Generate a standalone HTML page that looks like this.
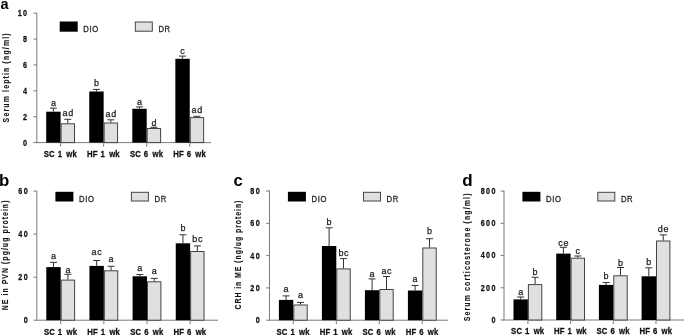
<!DOCTYPE html>
<html><head><meta charset="utf-8"><style>
html,body{margin:0;padding:0;background:#fff;width:685px;height:335px;overflow:hidden}
svg{display:block;filter:blur(0.45px)}
text{font-family:"Liberation Sans",sans-serif;white-space:pre}
.yl{font-size:8px;font-weight:bold;text-anchor:middle;fill:#111;stroke:#111;stroke-width:0.1px}
.tl{font-size:8px;font-weight:bold;letter-spacing:1.5px;word-spacing:0px;fill:#111;stroke:#111;stroke-width:0.25px}
.xl{font-size:8px;font-weight:bold;letter-spacing:0.15px;word-spacing:0.6px;fill:#111;stroke:#111;stroke-width:0.25px}
.lg{font-size:8px;font-weight:normal;letter-spacing:0.7px;word-spacing:0px;fill:#2a2a2a;stroke:#2a2a2a;stroke-width:0.3px}
.sl{font-size:9px;font-weight:normal;letter-spacing:0.7px;word-spacing:0px;fill:#222;stroke:#222;stroke-width:0.25px}
.pl{font-size:16.5px;font-weight:bold;letter-spacing:0.0px;word-spacing:0px;fill:#000}
</style></head><body>
<svg width="685" height="335" viewBox="0 0 685 335">
<rect x="36.3" y="12.7" width="1" height="130.4" fill="#7c7c7c"/>
<rect x="36.3" y="142.1" width="174.8" height="1" fill="#7c7c7c"/>
<rect x="33.4" y="142.1" width="3.4" height="1" fill="#7c7c7c"/>
<text transform="translate(28.45,145.5) scale(0.9,1.03)" class="tl" text-anchor="end">0</text>
<rect x="33.4" y="116.22" width="3.4" height="1" fill="#7c7c7c"/>
<text transform="translate(28.45,119.62) scale(0.9,1.03)" class="tl" text-anchor="end">2</text>
<rect x="33.4" y="90.34" width="3.4" height="1" fill="#7c7c7c"/>
<text transform="translate(28.45,93.74) scale(0.9,1.03)" class="tl" text-anchor="end">4</text>
<rect x="33.4" y="64.46" width="3.4" height="1" fill="#7c7c7c"/>
<text transform="translate(28.45,67.86) scale(0.9,1.03)" class="tl" text-anchor="end">6</text>
<rect x="33.4" y="38.58" width="3.4" height="1" fill="#7c7c7c"/>
<text transform="translate(28.45,41.98) scale(0.9,1.03)" class="tl" text-anchor="end">8</text>
<rect x="33.4" y="12.7" width="3.4" height="1" fill="#7c7c7c"/>
<text transform="translate(28.45,16.1) scale(0.9,1.03)" class="tl" text-anchor="end">10</text>
<text transform="translate(9.3,77.3) rotate(-90) scale(0.87,1.07)" class="yl" style="letter-spacing:1.32px">Serum leptin (ng/ml)</text>
<text transform="translate(0.6,8.6)" class="pl" style="font-size:14.5px">a</text>
<rect x="59.7" y="21.5" width="18" height="10.2" fill="#000"/>
<text transform="translate(83.3,32.1) scale(0.96,1.08)" class="lg">DIO</text>
<rect x="135.3" y="22" width="17" height="9.2" fill="#e0e0e0" stroke="#444" stroke-width="1"/>
<text transform="translate(158.4,32.1) scale(0.96,1.08)" class="lg">DR</text>
<rect x="46.2" y="111.7" width="14.4" height="30.9" fill="#000"/>
<rect x="61.1" y="123.8" width="13.4" height="18.8" fill="#e0e0e0" stroke="#444" stroke-width="1"/>
<rect x="52.9" y="108.1" width="1" height="3.6" fill="#333"/>
<rect x="49.9" y="107.6" width="7" height="1" fill="#333"/>
<rect x="67.3" y="119.3" width="1" height="4" fill="#333"/>
<rect x="64.3" y="118.8" width="7" height="1" fill="#333"/>
<text transform="translate(53.75,106.1)" class="sl" text-anchor="middle">a</text>
<text transform="translate(68.15,116.4)" class="sl" text-anchor="middle">ad</text>
<rect x="60.1" y="143.1" width="1" height="3.5" fill="#7c7c7c"/>
<text transform="translate(60.4,156.9) scale(0.97,1.05)" class="xl" text-anchor="middle">SC 1 <tspan dx="1.3">wk</tspan></text>
<rect x="89.25" y="91.5" width="14.4" height="51.1" fill="#000"/>
<rect x="104.15" y="123" width="13.4" height="19.6" fill="#e0e0e0" stroke="#444" stroke-width="1"/>
<rect x="95.95" y="89.4" width="1" height="2.1" fill="#333"/>
<rect x="92.95" y="88.9" width="7" height="1" fill="#333"/>
<rect x="110.35" y="119.8" width="1" height="2.7" fill="#333"/>
<rect x="107.35" y="119.3" width="7" height="1" fill="#333"/>
<text transform="translate(96.8,85.8)" class="sl" text-anchor="middle">b</text>
<text transform="translate(111.2,117.2)" class="sl" text-anchor="middle">ad</text>
<rect x="103.15" y="143.1" width="1" height="3.5" fill="#7c7c7c"/>
<text transform="translate(103.45,156.9) scale(0.97,1.05)" class="xl" text-anchor="middle">HF 1 <tspan dx="1.3">wk</tspan></text>
<rect x="132.3" y="108.8" width="14.4" height="33.8" fill="#000"/>
<rect x="147.2" y="128.5" width="13.4" height="14.1" fill="#e0e0e0" stroke="#444" stroke-width="1"/>
<rect x="139" y="106.9" width="1" height="1.9" fill="#333"/>
<rect x="136" y="106.4" width="7" height="1" fill="#333"/>
<rect x="153.4" y="127.3" width="1" height="0.7" fill="#333"/>
<rect x="150.4" y="126.8" width="7" height="1" fill="#333"/>
<text transform="translate(139.85,104.9)" class="sl" text-anchor="middle">a</text>
<text transform="translate(154.25,126.1)" class="sl" text-anchor="middle">d</text>
<rect x="146.2" y="143.1" width="1" height="3.5" fill="#7c7c7c"/>
<text transform="translate(146.5,156.9) scale(0.97,1.05)" class="xl" text-anchor="middle">SC 6 <tspan dx="1.3">wk</tspan></text>
<rect x="175.35" y="58.8" width="14.4" height="83.8" fill="#000"/>
<rect x="190.25" y="117.6" width="13.4" height="25" fill="#e0e0e0" stroke="#444" stroke-width="1"/>
<rect x="182.05" y="56.1" width="1" height="2.7" fill="#333"/>
<rect x="179.05" y="55.6" width="7" height="1" fill="#333"/>
<rect x="196.45" y="116.3" width="1" height="0.8" fill="#333"/>
<rect x="193.45" y="115.8" width="7" height="1" fill="#333"/>
<text transform="translate(182.9,53.6)" class="sl" text-anchor="middle">c</text>
<text transform="translate(197.3,112.9)" class="sl" text-anchor="middle">ad</text>
<rect x="189.25" y="143.1" width="1" height="3.5" fill="#7c7c7c"/>
<text transform="translate(189.55,156.9) scale(0.97,1.05)" class="xl" text-anchor="middle">HF 6 <tspan dx="1.3">wk</tspan></text>
<rect x="36.3" y="190.6" width="1" height="130.1" fill="#7c7c7c"/>
<rect x="36.3" y="319.7" width="181.6" height="1" fill="#7c7c7c"/>
<rect x="33.4" y="319.7" width="3.4" height="1" fill="#7c7c7c"/>
<text transform="translate(29.05,323.1) scale(0.9,1.03)" class="tl" text-anchor="end">0</text>
<rect x="33.4" y="276.67" width="3.4" height="1" fill="#7c7c7c"/>
<text transform="translate(29.05,280.07) scale(0.9,1.03)" class="tl" text-anchor="end">20</text>
<rect x="33.4" y="233.63" width="3.4" height="1" fill="#7c7c7c"/>
<text transform="translate(29.05,237.03) scale(0.9,1.03)" class="tl" text-anchor="end">40</text>
<rect x="33.4" y="190.6" width="3.4" height="1" fill="#7c7c7c"/>
<text transform="translate(29.05,194) scale(0.9,1.03)" class="tl" text-anchor="end">60</text>
<text transform="translate(7.6,254.85) rotate(-90) scale(0.87,1.07)" class="yl" style="letter-spacing:1.18px">NE in PVN (pg/ug protein)</text>
<text transform="translate(-1,185.8)" class="pl" style="font-size:16.8px">b</text>
<rect x="55.4" y="191.8" width="18" height="9.7" fill="#000"/>
<text transform="translate(79,201.5) scale(0.96,1.08)" class="lg">DIO</text>
<rect x="131.4" y="192.3" width="17" height="8.7" fill="#e0e0e0" stroke="#444" stroke-width="1"/>
<text transform="translate(154.5,201.5) scale(0.96,1.08)" class="lg">DR</text>
<rect x="46.3" y="267.1" width="14.4" height="53.1" fill="#000"/>
<rect x="61.2" y="280.1" width="13.4" height="40.1" fill="#e0e0e0" stroke="#444" stroke-width="1"/>
<rect x="53" y="262.3" width="1" height="4.8" fill="#333"/>
<rect x="50" y="261.8" width="7" height="1" fill="#333"/>
<rect x="67.4" y="274.3" width="1" height="5.3" fill="#333"/>
<rect x="64.4" y="273.8" width="7" height="1" fill="#333"/>
<text transform="translate(53.85,258.9)" class="sl" text-anchor="middle">a</text>
<text transform="translate(68.25,273)" class="sl" text-anchor="middle">a</text>
<rect x="60.2" y="320.7" width="1" height="3.5" fill="#7c7c7c"/>
<text transform="translate(60.5,334.5) scale(0.97,1.05)" class="xl" text-anchor="middle">SC 1 <tspan dx="1.3">wk</tspan></text>
<rect x="89.45" y="265.9" width="14.4" height="54.3" fill="#000"/>
<rect x="104.35" y="270.8" width="13.4" height="49.4" fill="#e0e0e0" stroke="#444" stroke-width="1"/>
<rect x="96.15" y="260.5" width="1" height="5.4" fill="#333"/>
<rect x="93.15" y="260" width="7" height="1" fill="#333"/>
<rect x="110.55" y="266.3" width="1" height="4" fill="#333"/>
<rect x="107.55" y="265.8" width="7" height="1" fill="#333"/>
<text transform="translate(97,254.8)" class="sl" text-anchor="middle">ac</text>
<text transform="translate(111.4,261.9)" class="sl" text-anchor="middle">a</text>
<rect x="103.35" y="320.7" width="1" height="3.5" fill="#7c7c7c"/>
<text transform="translate(103.65,334.5) scale(0.97,1.05)" class="xl" text-anchor="middle">HF 1 <tspan dx="1.3">wk</tspan></text>
<rect x="132.6" y="276.3" width="14.4" height="43.9" fill="#000"/>
<rect x="147.5" y="281.8" width="13.4" height="38.4" fill="#e0e0e0" stroke="#444" stroke-width="1"/>
<rect x="139.3" y="274.5" width="1" height="1.8" fill="#333"/>
<rect x="136.3" y="274" width="7" height="1" fill="#333"/>
<rect x="153.7" y="278.4" width="1" height="2.9" fill="#333"/>
<rect x="150.7" y="277.9" width="7" height="1" fill="#333"/>
<text transform="translate(140.15,270.5)" class="sl" text-anchor="middle">a</text>
<text transform="translate(154.55,274.4)" class="sl" text-anchor="middle">a</text>
<rect x="146.5" y="320.7" width="1" height="3.5" fill="#7c7c7c"/>
<text transform="translate(146.8,334.5) scale(0.97,1.05)" class="xl" text-anchor="middle">SC 6 <tspan dx="1.3">wk</tspan></text>
<rect x="175.75" y="243.3" width="14.4" height="76.9" fill="#000"/>
<rect x="190.65" y="251.5" width="13.4" height="68.7" fill="#e0e0e0" stroke="#444" stroke-width="1"/>
<rect x="182.45" y="234.8" width="1" height="8.5" fill="#333"/>
<rect x="179.45" y="234.3" width="7" height="1" fill="#333"/>
<rect x="196.85" y="245.9" width="1" height="5.1" fill="#333"/>
<rect x="193.85" y="245.4" width="7" height="1" fill="#333"/>
<text transform="translate(183.3,230.9)" class="sl" text-anchor="middle">b</text>
<text transform="translate(197.7,241.9)" class="sl" text-anchor="middle">bc</text>
<rect x="189.65" y="320.7" width="1" height="3.5" fill="#7c7c7c"/>
<text transform="translate(189.95,334.5) scale(0.97,1.05)" class="xl" text-anchor="middle">HF 6 <tspan dx="1.3">wk</tspan></text>
<rect x="269" y="190.5" width="1" height="130.2" fill="#7c7c7c"/>
<rect x="269" y="319.7" width="179.1" height="1" fill="#7c7c7c"/>
<rect x="266.1" y="319.7" width="3.4" height="1" fill="#7c7c7c"/>
<text transform="translate(261.05,323.1) scale(0.9,1.03)" class="tl" text-anchor="end">0</text>
<rect x="266.1" y="287.4" width="3.4" height="1" fill="#7c7c7c"/>
<text transform="translate(261.05,290.8) scale(0.9,1.03)" class="tl" text-anchor="end">20</text>
<rect x="266.1" y="255.1" width="3.4" height="1" fill="#7c7c7c"/>
<text transform="translate(261.05,258.5) scale(0.9,1.03)" class="tl" text-anchor="end">40</text>
<rect x="266.1" y="222.8" width="3.4" height="1" fill="#7c7c7c"/>
<text transform="translate(261.05,226.2) scale(0.9,1.03)" class="tl" text-anchor="end">60</text>
<rect x="266.1" y="190.5" width="3.4" height="1" fill="#7c7c7c"/>
<text transform="translate(261.05,193.9) scale(0.9,1.03)" class="tl" text-anchor="end">80</text>
<text transform="translate(240.5,254.6) rotate(-90) scale(0.87,1.07)" class="yl" style="letter-spacing:1.07px">CRH in ME (ng/ug protein)</text>
<text transform="translate(233.5,186.3)" class="pl">c</text>
<rect x="287.9" y="191.8" width="18" height="9.7" fill="#000"/>
<text transform="translate(311.5,201.5) scale(0.96,1.08)" class="lg">DIO</text>
<rect x="363.5" y="192.3" width="17" height="8.7" fill="#e0e0e0" stroke="#444" stroke-width="1"/>
<text transform="translate(386.6,201.5) scale(0.96,1.08)" class="lg">DR</text>
<rect x="278.9" y="299.9" width="14.4" height="20.3" fill="#000"/>
<rect x="293.8" y="305" width="13.4" height="15.2" fill="#e0e0e0" stroke="#444" stroke-width="1"/>
<rect x="285.6" y="295.9" width="1" height="4" fill="#333"/>
<rect x="282.6" y="295.4" width="7" height="1" fill="#333"/>
<rect x="300" y="302.4" width="1" height="2.1" fill="#333"/>
<rect x="297" y="301.9" width="7" height="1" fill="#333"/>
<text transform="translate(286.45,292.1)" class="sl" text-anchor="middle">a</text>
<text transform="translate(300.85,298.1)" class="sl" text-anchor="middle">a</text>
<rect x="292.8" y="320.7" width="1" height="3.5" fill="#7c7c7c"/>
<text transform="translate(293.1,334.5) scale(0.97,1.05)" class="xl" text-anchor="middle">SC 1 <tspan dx="1.3">wk</tspan></text>
<rect x="321.9" y="246" width="14.4" height="74.2" fill="#000"/>
<rect x="336.8" y="268.9" width="13.4" height="51.3" fill="#e0e0e0" stroke="#444" stroke-width="1"/>
<rect x="328.6" y="227.8" width="1" height="18.2" fill="#333"/>
<rect x="325.6" y="227.3" width="7" height="1" fill="#333"/>
<rect x="343" y="258.6" width="1" height="9.8" fill="#333"/>
<rect x="340" y="258.1" width="7" height="1" fill="#333"/>
<text transform="translate(329.45,225.3)" class="sl" text-anchor="middle">b</text>
<text transform="translate(343.85,255.7)" class="sl" text-anchor="middle">bc</text>
<rect x="335.8" y="320.7" width="1" height="3.5" fill="#7c7c7c"/>
<text transform="translate(336.1,334.5) scale(0.97,1.05)" class="xl" text-anchor="middle">HF 1 <tspan dx="1.3">wk</tspan></text>
<rect x="364.9" y="290.2" width="14.4" height="30" fill="#000"/>
<rect x="379.8" y="289.5" width="13.4" height="30.7" fill="#e0e0e0" stroke="#444" stroke-width="1"/>
<rect x="371.6" y="278.9" width="1" height="11.3" fill="#333"/>
<rect x="368.6" y="278.4" width="7" height="1" fill="#333"/>
<rect x="386" y="276.5" width="1" height="12.5" fill="#333"/>
<rect x="383" y="276" width="7" height="1" fill="#333"/>
<text transform="translate(372.45,276.5)" class="sl" text-anchor="middle">a</text>
<text transform="translate(386.85,273.7)" class="sl" text-anchor="middle">ac</text>
<rect x="378.8" y="320.7" width="1" height="3.5" fill="#7c7c7c"/>
<text transform="translate(379.1,334.5) scale(0.97,1.05)" class="xl" text-anchor="middle">SC 6 <tspan dx="1.3">wk</tspan></text>
<rect x="407.9" y="290.5" width="14.4" height="29.7" fill="#000"/>
<rect x="422.8" y="248" width="13.4" height="72.2" fill="#e0e0e0" stroke="#444" stroke-width="1"/>
<rect x="414.6" y="285.5" width="1" height="5" fill="#333"/>
<rect x="411.6" y="285" width="7" height="1" fill="#333"/>
<rect x="429" y="238.7" width="1" height="8.8" fill="#333"/>
<rect x="426" y="238.2" width="7" height="1" fill="#333"/>
<text transform="translate(415.45,282.1)" class="sl" text-anchor="middle">a</text>
<text transform="translate(429.85,233.9)" class="sl" text-anchor="middle">b</text>
<rect x="421.8" y="320.7" width="1" height="3.5" fill="#7c7c7c"/>
<text transform="translate(422.1,334.5) scale(0.97,1.05)" class="xl" text-anchor="middle">HF 6 <tspan dx="1.3">wk</tspan></text>
<rect x="503.5" y="190.6" width="1" height="129.9" fill="#7c7c7c"/>
<rect x="503.5" y="319.5" width="180.6" height="1" fill="#7c7c7c"/>
<rect x="500.6" y="319.5" width="3.4" height="1" fill="#7c7c7c"/>
<text transform="translate(496.75,322.9) scale(0.9,1.03)" class="tl" text-anchor="end">0</text>
<rect x="500.6" y="287.27" width="3.4" height="1" fill="#7c7c7c"/>
<text transform="translate(496.75,290.67) scale(0.9,1.03)" class="tl" text-anchor="end">200</text>
<rect x="500.6" y="255.05" width="3.4" height="1" fill="#7c7c7c"/>
<text transform="translate(496.75,258.45) scale(0.9,1.03)" class="tl" text-anchor="end">400</text>
<rect x="500.6" y="222.82" width="3.4" height="1" fill="#7c7c7c"/>
<text transform="translate(496.75,226.22) scale(0.9,1.03)" class="tl" text-anchor="end">600</text>
<rect x="500.6" y="190.6" width="3.4" height="1" fill="#7c7c7c"/>
<text transform="translate(496.75,194) scale(0.9,1.03)" class="tl" text-anchor="end">800</text>
<text transform="translate(469.7,256.85) rotate(-90) scale(0.87,1.07)" class="yl" style="letter-spacing:1.31px">Serum corticosterone (ng/ml)</text>
<text transform="translate(462.3,185.8)" class="pl" style="font-size:17px">d</text>
<rect x="522.4" y="191.8" width="18" height="9.7" fill="#000"/>
<text transform="translate(546,201.5) scale(0.96,1.08)" class="lg">DIO</text>
<rect x="597.8" y="192.3" width="17" height="8.7" fill="#e0e0e0" stroke="#444" stroke-width="1"/>
<text transform="translate(620.9,201.5) scale(0.96,1.08)" class="lg">DR</text>
<rect x="513.5" y="299.4" width="14.4" height="20.6" fill="#000"/>
<rect x="528.4" y="284.6" width="13.4" height="35.4" fill="#e0e0e0" stroke="#444" stroke-width="1"/>
<rect x="520.2" y="297" width="1" height="2.4" fill="#333"/>
<rect x="517.2" y="296.5" width="7" height="1" fill="#333"/>
<rect x="534.6" y="277.3" width="1" height="6.8" fill="#333"/>
<rect x="531.6" y="276.8" width="7" height="1" fill="#333"/>
<text transform="translate(521.05,294.8)" class="sl" text-anchor="middle">a</text>
<text transform="translate(535.45,275.3)" class="sl" text-anchor="middle">b</text>
<rect x="527.4" y="320.5" width="1" height="3.5" fill="#7c7c7c"/>
<text transform="translate(527.7,334.3) scale(0.97,1.05)" class="xl" text-anchor="middle">SC 1 <tspan dx="1.3">wk</tspan></text>
<rect x="556.2" y="253.6" width="14.4" height="66.4" fill="#000"/>
<rect x="571.1" y="258.2" width="13.4" height="61.8" fill="#e0e0e0" stroke="#444" stroke-width="1"/>
<rect x="562.9" y="247.3" width="1" height="6.3" fill="#333"/>
<rect x="559.9" y="246.8" width="7" height="1" fill="#333"/>
<rect x="577.3" y="256" width="1" height="1.7" fill="#333"/>
<rect x="574.3" y="255.5" width="7" height="1" fill="#333"/>
<text transform="translate(563.75,245.5)" class="sl" text-anchor="middle">ce</text>
<text transform="translate(578.15,254.1)" class="sl" text-anchor="middle">c</text>
<rect x="570.1" y="320.5" width="1" height="3.5" fill="#7c7c7c"/>
<text transform="translate(570.4,334.3) scale(0.97,1.05)" class="xl" text-anchor="middle">HF 1 <tspan dx="1.3">wk</tspan></text>
<rect x="598.9" y="284.9" width="14.4" height="35.1" fill="#000"/>
<rect x="613.8" y="275.8" width="13.4" height="44.2" fill="#e0e0e0" stroke="#444" stroke-width="1"/>
<rect x="605.6" y="282.5" width="1" height="2.4" fill="#333"/>
<rect x="602.6" y="282" width="7" height="1" fill="#333"/>
<rect x="620" y="267.5" width="1" height="7.8" fill="#333"/>
<rect x="617" y="267" width="7" height="1" fill="#333"/>
<text transform="translate(606.45,279.1)" class="sl" text-anchor="middle">b</text>
<text transform="translate(620.85,265.7)" class="sl" text-anchor="middle">b</text>
<rect x="612.8" y="320.5" width="1" height="3.5" fill="#7c7c7c"/>
<text transform="translate(613.1,334.3) scale(0.97,1.05)" class="xl" text-anchor="middle">SC 6 <tspan dx="1.3">wk</tspan></text>
<rect x="641.6" y="276.3" width="14.4" height="43.7" fill="#000"/>
<rect x="656.5" y="241" width="13.4" height="79" fill="#e0e0e0" stroke="#444" stroke-width="1"/>
<rect x="648.3" y="267.8" width="1" height="8.5" fill="#333"/>
<rect x="645.3" y="267.3" width="7" height="1" fill="#333"/>
<rect x="662.7" y="234.9" width="1" height="5.6" fill="#333"/>
<rect x="659.7" y="234.4" width="7" height="1" fill="#333"/>
<text transform="translate(649.15,264.8)" class="sl" text-anchor="middle">b</text>
<text transform="translate(663.55,231.8)" class="sl" text-anchor="middle">de</text>
<rect x="655.5" y="320.5" width="1" height="3.5" fill="#7c7c7c"/>
<text transform="translate(655.8,334.3) scale(0.97,1.05)" class="xl" text-anchor="middle">HF 6 <tspan dx="1.3">wk</tspan></text>
</svg>
</body></html>
